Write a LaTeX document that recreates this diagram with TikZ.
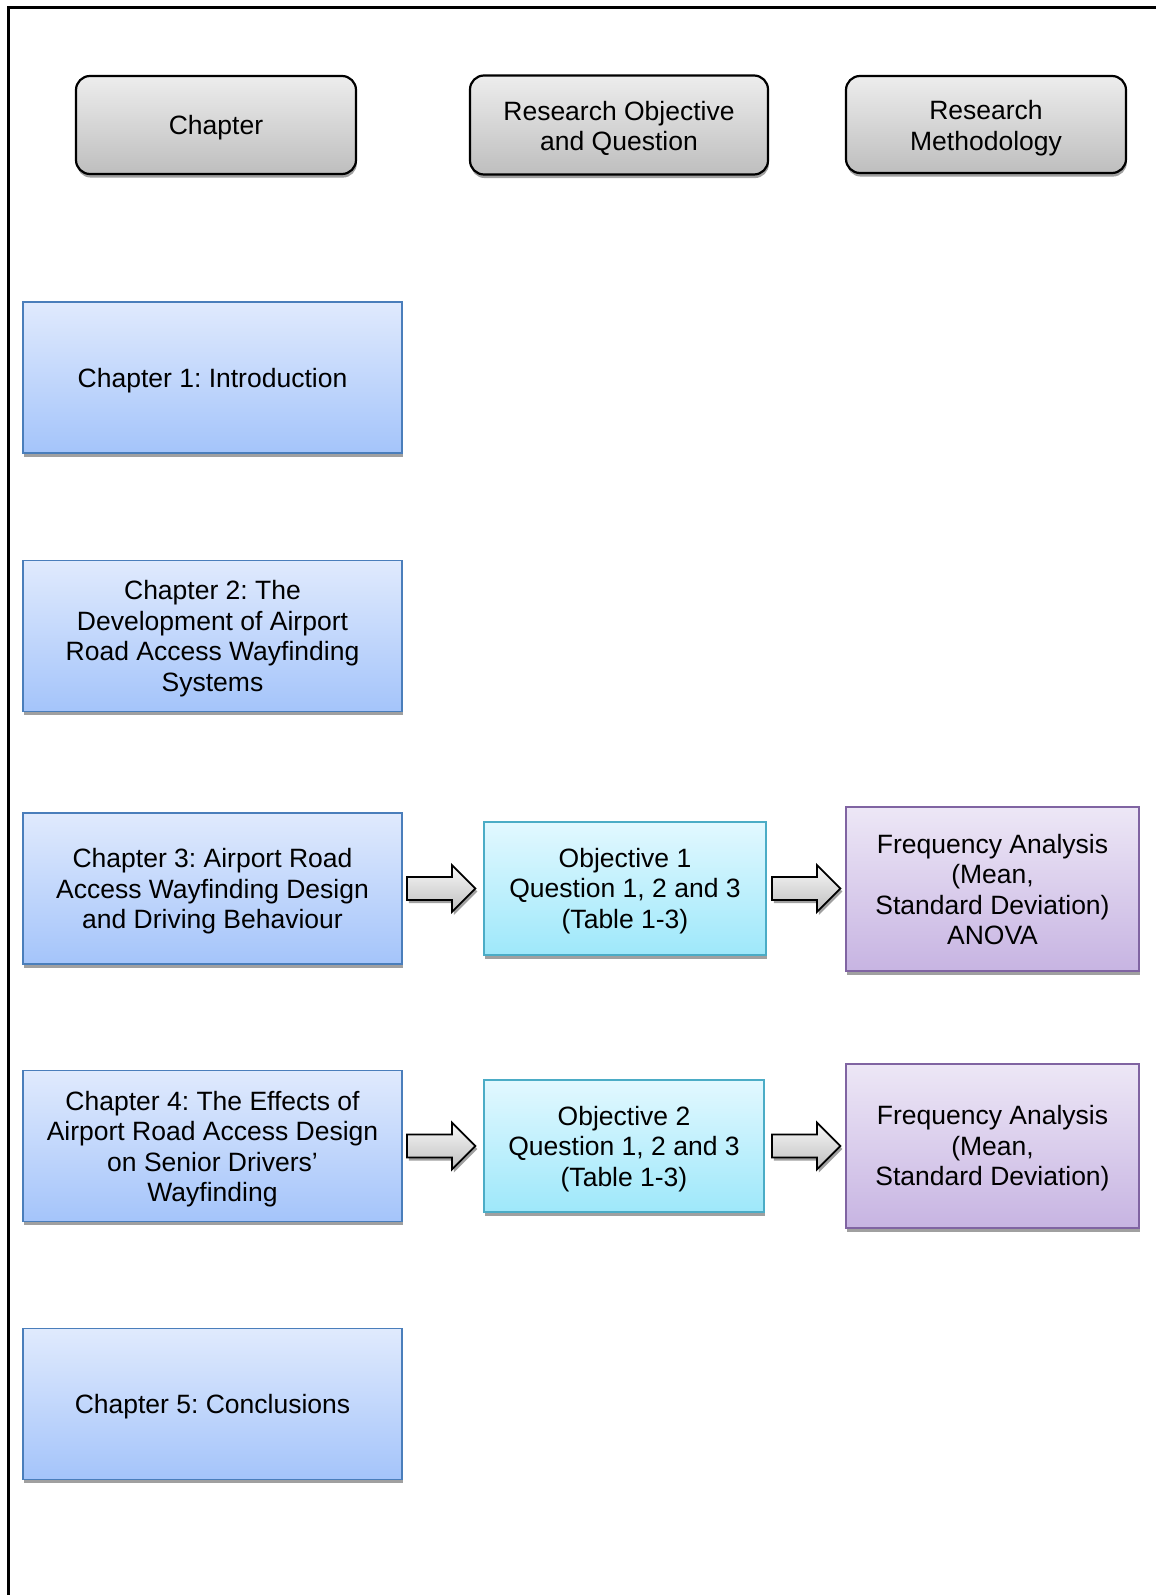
\documentclass[tikz,border=0pt]{standalone}
\usepackage{fontspec}
\setmainfont{Liberation Sans}
\frenchspacing
\usetikzlibrary{shadows,calc}
\definecolor{bluetop}{RGB}{224,234,253}
\definecolor{bluebot}{RGB}{164,196,250}
\definecolor{blueline}{RGB}{74,126,187}
\definecolor{cyantop}{RGB}{226,248,255}
\definecolor{cyanbot}{RGB}{158,232,250}
\definecolor{cyanline}{RGB}{75,172,198}
\definecolor{purtop}{RGB}{237,231,246}
\definecolor{purbot}{RGB}{199,180,226}
\definecolor{purline}{RGB}{128,100,162}
\definecolor{graytop}{RGB}{237,237,237}
\definecolor{graybot}{RGB}{190,190,190}
\definecolor{shadowgray}{RGB}{160,160,160}
\newcommand{\diagfont}{\fontsize{13.25pt}{15.25pt}\selectfont}
\tikzset{
  px size/.style 2 args={minimum width=#1*0.5pt, minimum height=#2*0.5pt},
  basebox/.style={rectangle, inner sep=0pt,
    drop shadow={shadow xshift=0.4pt, shadow yshift=-1.8pt, fill=shadowgray, opacity=1}},
  hdrbox/.style={basebox, draw=black, line width=1.1pt, rounded corners=7pt,
    top color=graytop, bottom color=graybot},
  chapbox/.style={basebox, draw=blueline, line width=0.9pt, top color=bluetop, bottom color=bluebot},
  objbox/.style={basebox, draw=cyanline, line width=0.9pt, top color=cyantop, bottom color=cyanbot},
  methbox/.style={basebox, draw=purline, line width=0.9pt, top color=purtop, bottom color=purbot},
  boxtext/.style={inner sep=0pt, align=center, font=\diagfont, text=black},
  blockarrow/.style={draw=black, line width=0.9pt, line join=miter, top color=white!95!gray, bottom color=graybot,
    drop shadow={shadow xshift=1pt, shadow yshift=-1.5pt, fill=shadowgray, opacity=1}},
}
\begin{document}
\begin{tikzpicture}[x=0.5pt, y=-0.5pt]
\useasboundingbox (0,0) rectangle (1156,1595);
% frame
\draw[line width=1.3pt] (8.5,1600) -- (8.5,7.5) -- (1160,7.5);

% header row
\node[hdrbox, px size={280}{98}] (h1) at (216,125) {};
\node[hdrbox, px size={298}{99}] (h2) at (619,125) {};
\node[hdrbox, px size={280}{97}] (h3) at (986,124.5) {};
\node[boxtext] (h1t) at ($(h1)+(0,3)$) {Chapter};
\node[boxtext] (h2t) at ($(h2)+(0,3.5)$) {Research Objective\\and Question};
\node[boxtext] (h3t) at ($(h3)+(0,3.5)$) {Research\\Methodology};

% chapters
\node[chapbox, px size={379}{151}] (c1) at (212.5,377.5) {};
\node[chapbox, px size={379}{151}] (c2) at (212.5,636) {};
\node[chapbox, px size={379}{151}] (c3) at (212.5,888.5) {};
\node[chapbox, px size={379}{151}] (c4) at (212.5,1146) {};
\node[chapbox, px size={379}{151}] (c5) at (212.5,1404) {};
\node[boxtext] (c1t) at ($(c1)+(0,3)$) {Chapter 1: Introduction};
\node[boxtext] (c2t) at ($(c2)+(0,2.5)$) {Chapter 2: The\\Development of Airport\\Road Access Wayfinding\\Systems};
\node[boxtext] (c3t) at ($(c3)+(0,3)$) {Chapter 3: Airport Road\\Access Wayfinding Design\\and Driving Behaviour};
\node[boxtext] (c4t) at ($(c4)+(0,3)$) {Chapter 4: The Effects of\\Airport Road Access Design\\on Senior Drivers'\\Wayfinding};
\node[boxtext] (c5t) at ($(c5)+(0,3)$) {Chapter 5: Conclusions};

% objectives
\node[objbox, px size={282}{133}] (o1) at (625,888.5) {};
\node[objbox, px size={280}{132}] (o2) at (624,1146) {};
\node[boxtext] (o1t) at ($(o1)+(0,2.5)$) {Objective 1\\Question 1, 2 and 3\\(Table 1-3)};
\node[boxtext] (o2t) at ($(o2)+(0,3)$) {Objective 2\\Question 1, 2 and 3\\(Table 1-3)};

% methodology
\node[methbox, px size={293}{164}] (m1) at (992.5,889) {};
\node[methbox, px size={293}{164}] (m2) at (992.5,1146) {};
\node[boxtext] (m1t) at ($(m1)+(0,0.5)$) {Frequency Analysis\\(Mean,\\Standard Deviation)\\ANOVA};
\node[boxtext] (m2t) at ($(m2)+(0,2.5)$) {Frequency Analysis\\(Mean,\\Standard Deviation)};

% block arrows
\coordinate (a1) at ($(c3.east)+(4,0)$);
\coordinate (a2) at ($(o1.east)+(5,0)$);
\coordinate (a3) at ($(c4.east)+(4,0)$);
\coordinate (a4) at ($(o2.east)+(7,0)$);
\foreach \s in {a1,a2,a3,a4}{
  \draw[blockarrow] (\s) ++(0,-11.5) -- ++(45,0) -- ++(0,-12) -- ++(23.5,23.5) -- ++(-23.5,23.5) -- ++(0,-12) -- ++(-45,0) -- cycle;
}
\end{tikzpicture}
\end{document}
